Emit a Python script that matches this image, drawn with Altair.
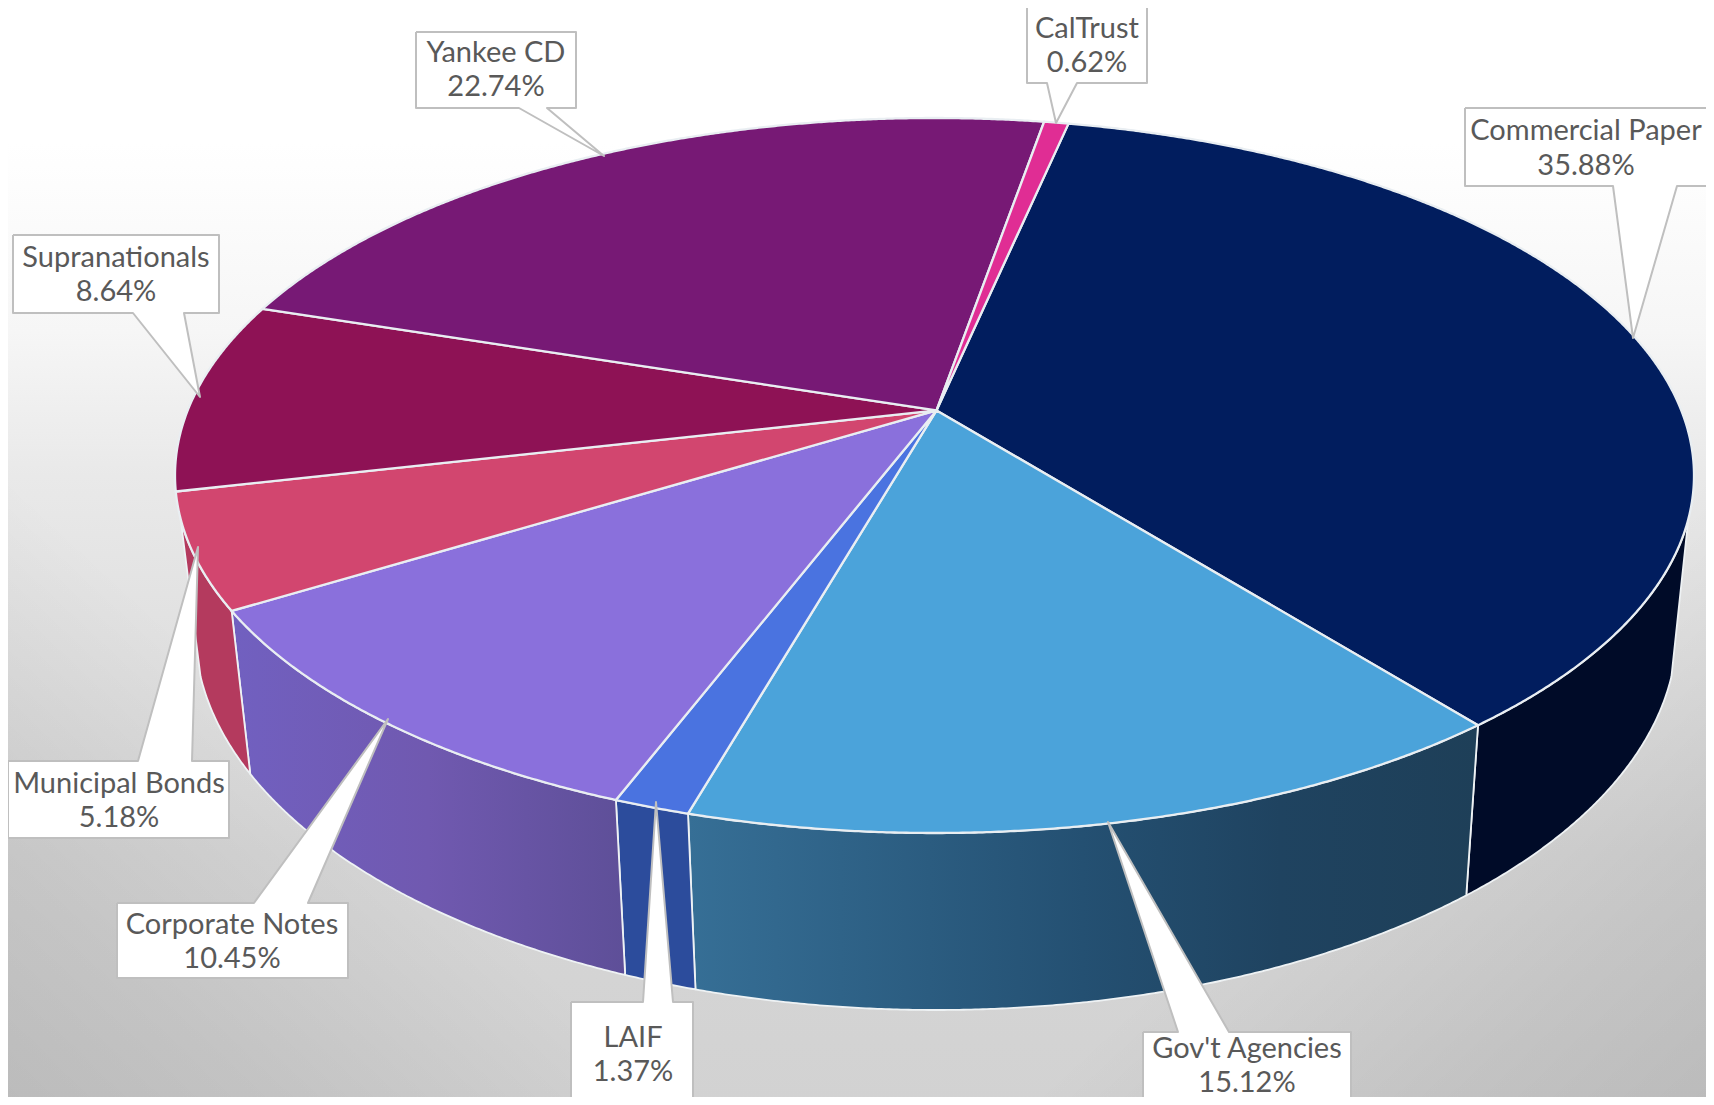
import math
import altair as alt
import pandas as pd

# ---- values ----
categories = ["Commercial Paper", "Gov't Agencies", "LAIF", "Corporate Notes",
              "Municipal Bonds", "Supranationals", "Yankee CD", "CalTrust"]
shares = [35.88, 15.12, 1.37, 10.45, 5.18, 8.64, 22.74, 0.62]
share_labels = ["35.88%", "15.12%", "1.37%", "10.45%", "5.18%", "8.64%", "22.74%", "0.62%"]
top_colors = ["#011d5e", "#4ba3da", "#4a73e0", "#8a70dc", "#d2466f", "#8e1255", "#771975", "#e02d94"]
wall_flat = ["#000b28", None, "#2c4c9c", None, "#b43a5e", "#6a0a3d", "#5a1258", "#a8206f"]
wall_stops = {
    "Gov't Agencies": [(0, "#366f96"), (0.5, "#245072"), (0.75, "#1f4360"), (1, "#1e3f58")],
    "Corporate Notes": [(0, "#7160c0"), (0.5, "#7059b0"), (1, "#5e4f98")],
}

# ---- layout of the canvas and of the tilted disc ----
W, H = 1714, 1105
START = 12.2          # degrees clockwise from the far side
TOP = dict(cx=934.5, cy=475.5, rx=759.5, ry=357.5)
BOT = dict(cx=936.0, cy=630.0, rx=741.0, ry=380.0)
A = 0.182             # perspective shift of the disc centre
FRONT = -0.12         # rim is visible below this normalised height

# label boxes: left, right, top, bottom, wedge base a, b, tip x, tip y, text x, line y1, line y2
callouts = {
    "Commercial Paper": (1465, 1714, 108, 186, 1613, 1677, 1633, 338, 1586, 131, 166),
    "Gov't Agencies": (1143, 1351, 1032, 1105, 1178, 1229, 1108, 822, 1247, 1049, 1083),
    "LAIF": (571, 693, 1002, 1105, 643, 673, 656, 802, 633, 1038, 1072),
    "Corporate Notes": (117, 348, 903, 978, 254, 308, 388, 719, 232, 925, 959),
    "Municipal Bonds": (8, 229, 761, 838, 138, 192, 198, 547, 119, 784, 818),
    "Supranationals": (13, 219, 235, 313, 133, 184, 200, 397, 116, 258, 292),
    "Yankee CD": (416, 576, 32, 108, 519, 547, 604, 156, 496, 53, 87),
    "CalTrust": (1027, 1147, 6, 83, 1047, 1077, 1056, 123, 1087, 29, 63),
}


def norm(theta):
    t = math.radians(theta)
    u, v = math.sin(t), math.cos(t)
    d = 1 + A * v
    return u * math.sqrt(1 - A * A) / d, (v + A) / d


def place(theta, e):
    X, Y = norm(theta)
    return e["cx"] + X * e["rx"], e["cy"] - Y * e["ry"]


def poly(points):
    rows = [{"px": p[0], "py": p[1], "i": i} for i, p in enumerate(points)]
    rows.append({"px": points[0][0], "py": points[0][1], "i": len(points)})
    return pd.DataFrame(rows)


xs = alt.X("px:Q", axis=None, scale=alt.Scale(domain=[0, W], nice=False, zero=False))
ys = alt.Y("py:Q", axis=None, scale=alt.Scale(domain=[H, 0], nice=False, zero=False))
order = alt.Order("i:Q")


def shape(points, **mark):
    return alt.Chart(poly(points)).mark_line(strokeJoin="round", clip=True, **mark).encode(x=xs, y=ys, order=order)


spans = []
acc = START
total = sum(shares)
for s in shares:
    spans.append((acc, acc + s / total * 360))
    acc += s / total * 360

full = dict(x=alt.value(0), x2=alt.value(W), y=alt.value(0), y2=alt.value(H))
bg_data = pd.DataFrame({"k": [0]})
bg = alt.Chart(bg_data).mark_rect(
    color=alt.LinearGradient(
        gradient="linear", x1=0, x2=0, y1=0, y2=1,
        stops=[alt.GradientStop(offset=0, color="#ffffff"),
               alt.GradientStop(offset=0.13, color="#ffffff"),
               alt.GradientStop(offset=0.3, color="#f6f6f6"),
               alt.GradientStop(offset=0.43, color="#e9e9e9"),
               alt.GradientStop(offset=0.77, color="#d6d6d6"),
               alt.GradientStop(offset=1, color="#d2d2d2")])
).encode(**full)


def corner(x1, x2):
    return alt.Chart(bg_data).mark_rect(
        color=alt.LinearGradient(
            gradient="linear", x1=x1, y1=0.55, x2=x2, y2=0.9,
            stops=[alt.GradientStop(offset=0, color="rgba(0,0,0,0)"),
                   alt.GradientStop(offset=0.35, color="rgba(0,0,0,0)"),
                   alt.GradientStop(offset=0.68, color="rgba(0,0,0,0.075)"),
                   alt.GradientStop(offset=1, color="rgba(0,0,0,0.13)")])
    ).encode(**full)


layers = [bg, corner(0.35, -0.15), corner(0.65, 1.15)]

# side walls
for name, (a, b), flat in zip(categories, spans, wall_flat):
    n = max(2, int((b - a) * 4))
    thetas = [a + (b - a) * k / n for k in range(n + 1)]
    thetas = [t for t in thetas if norm(t)[1] <= FRONT]
    if len(thetas) < 2:
        continue
    pts = [place(t, TOP) for t in thetas] + [place(t, BOT) for t in reversed(thetas)]
    if flat is None:
        fill = alt.LinearGradient(gradient="linear", x1=0, x2=1, y1=0, y2=0,
                                  stops=[alt.GradientStop(offset=o, color=c) for o, c in wall_stops[name]])
    else:
        fill = flat
    layers.append(shape(pts, fill=fill, stroke="#eef2f4", strokeWidth=1.8))

# top face
apex = (TOP["cx"] + 2, TOP["cy"] - A * TOP["ry"])
for (a, b), col in zip(spans, top_colors):
    n = max(2, int((b - a) * 4))
    pts = [apex] + [place(a + (b - a) * k / n, TOP) for k in range(n + 1)]
    layers.append(shape(pts, fill=col, stroke="#e9eef2", strokeWidth=2.3))

# label boxes with wedges
text_rows = []
for name, label in zip(categories, share_labels):
    L, R, T, B, wa, wb, tx, ty, cx, y1, y2 = callouts[name]
    if ty > B:
        pts = [(L, T), (R, T), (R, B), (wb, B), (tx, ty), (wa, B), (L, B)]
    else:
        pts = [(L, T), (wa, T), (tx, ty), (wb, T), (R, T), (R, B), (L, B)]
    layers.append(shape(pts, fill="#ffffff", stroke="#bfbfbf", strokeWidth=2))
    text_rows.append({"px": cx, "py": y1, "t": name})
    text_rows.append({"px": cx, "py": y2, "t": label})

layers.append(
    alt.Chart(pd.DataFrame(text_rows)).mark_text(
        font="Lato", fontSize=29, color="#595959", align="center", baseline="middle"
    ).encode(x=xs, y=ys, text="t:N")
)

chart = alt.layer(*layers).properties(
    width=W, height=H,
    autosize=alt.AutoSizeParams(type="none"),
    padding={"left": -8, "top": -8, "right": -8, "bottom": -8},
).configure_view(stroke=None)

chart.save("out.html", embed_options={"renderer": "svg", "actions": False})
